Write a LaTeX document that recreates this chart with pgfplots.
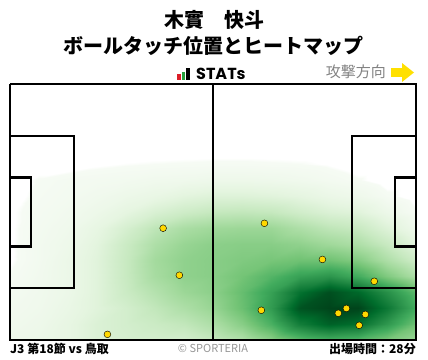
\documentclass[border=0pt]{standalone}
\usepackage{fontspec}
\usepackage{pgfplots}
\usepackage{pgfplotstable}
\pgfplotsset{compat=1.18}
\setmainfont{Noto Sans CJK JP}
\newfontfamily\popfont{Poppins}
\definecolor{dotyellow}{RGB}{255,216,0}
\definecolor{arrowyellow}{RGB}{255,224,0}
\definecolor{graytext}{RGB}{130,130,130}
\definecolor{lightgraytext}{RGB}{150,150,150}
\definecolor{logored}{RGB}{220,30,40}
\definecolor{logogreen}{RGB}{40,160,60}

% heat grid: x (m), y (m from top touchline), level
\pgfplotstableread{
x y z
0 0 0
7.5 0 0
15 0 0
22.5 0 0
30 0 0
37.5 0 0
45 0 0
52.5 0 0
60 0 0
67.5 0 0
75 0 0
82.5 0 0
90 0 0
97.5 0 0
105 0 0
0 17 0
7.5 17 0
15 17 0
22.5 17 0
30 17 0
37.5 17 0
45 17 0
52.5 17 0
60 17 0
67.5 17 0
75 17 0
82.5 17 0
90 17 0
97.5 17 0
105 17 0
0 21.25 0
7.5 21.25 0
15 21.25 0
22.5 21.25 0.01
30 21.25 0.015
37.5 21.25 0.018
45 21.25 0.02
52.5 21.25 0.022
60 21.25 0.022
67.5 21.25 0.02
75 21.25 0.018
82.5 21.25 0.012
90 21.25 0
97.5 21.25 0
105 21.25 0
0 25.5 0
7.5 25.5 0.02
15 25.5 0.03
22.5 25.5 0.035
30 25.5 0.04
37.5 25.5 0.05
45 25.5 0.055
52.5 25.5 0.065
60 25.5 0.065
67.5 25.5 0.06
75 25.5 0.05
82.5 25.5 0.035
90 25.5 0.02
97.5 25.5 0
105 25.5 0
0 29.75 0
7.5 29.75 0.025
15 29.75 0.035
22.5 29.75 0.05
30 29.75 0.07
37.5 29.75 0.09
45 29.75 0.12
52.5 29.75 0.14
60 29.75 0.14
67.5 29.75 0.13
75 29.75 0.11
82.5 29.75 0.08
90 29.75 0.06
97.5 29.75 0.025
105 29.75 0
0 34 0.01
7.5 34 0.03
15 34 0.045
22.5 34 0.07
30 34 0.11
37.5 34 0.16
45 34 0.2
52.5 34 0.23
60 34 0.24
67.5 34 0.23
75 34 0.19
82.5 34 0.15
90 34 0.13
97.5 34 0.07
105 34 0.02
0 38.25 0.01
7.5 38.25 0.035
15 38.25 0.055
22.5 38.25 0.1
30 38.25 0.17
37.5 38.25 0.25
45 38.25 0.31
52.5 38.25 0.34
60 38.25 0.35
67.5 38.25 0.35
75 38.25 0.3
82.5 38.25 0.25
90 38.25 0.22
97.5 38.25 0.14
105 38.25 0.06
0 42.5 0.01
7.5 42.5 0.04
15 42.5 0.065
22.5 42.5 0.12
30 42.5 0.21
37.5 42.5 0.3
45 42.5 0.36
52.5 42.5 0.39
60 42.5 0.4
67.5 42.5 0.4
75 42.5 0.38
82.5 42.5 0.34
90 42.5 0.3
97.5 42.5 0.22
105 42.5 0.12
0 46.75 0.01
7.5 46.75 0.04
15 46.75 0.075
22.5 46.75 0.13
30 46.75 0.22
37.5 46.75 0.33
45 46.75 0.38
52.5 46.75 0.4
60 46.75 0.42
67.5 46.75 0.44
75 46.75 0.46
82.5 46.75 0.46
90 46.75 0.41
97.5 46.75 0.3
105 46.75 0.2
0 51 0.02
7.5 51 0.045
15 51 0.075
22.5 51 0.13
30 51 0.22
37.5 51 0.32
45 51 0.38
52.5 51 0.4
60 51 0.45
67.5 51 0.52
75 51 0.6
82.5 51 0.64
90 51 0.56
97.5 51 0.42
105 51 0.3
0 55.25 0.03
7.5 55.25 0.05
15 55.25 0.075
22.5 55.25 0.13
30 55.25 0.21
37.5 55.25 0.28
45 55.25 0.35
52.5 55.25 0.39
60 55.25 0.48
67.5 55.25 0.6
75 55.25 0.77
82.5 55.25 0.87
90 55.25 0.8
97.5 55.25 0.66
105 55.25 0.5
0 59.5 0.04
7.5 59.5 0.055
15 59.5 0.085
22.5 59.5 0.13
30 59.5 0.18
37.5 59.5 0.24
45 59.5 0.3
52.5 59.5 0.36
60 59.5 0.47
67.5 59.5 0.62
75 59.5 0.86
82.5 59.5 1.0
90 59.5 0.9
97.5 59.5 0.75
105 59.5 0.56
0 63.75 0.05
7.5 63.75 0.065
15 63.75 0.1
22.5 63.75 0.15
30 63.75 0.18
37.5 63.75 0.21
45 63.75 0.24
52.5 63.75 0.3
60 63.75 0.4
67.5 63.75 0.54
75 63.75 0.73
82.5 63.75 0.82
90 63.75 0.78
97.5 63.75 0.63
105 63.75 0.46
0 68 0.06
7.5 68 0.075
15 68 0.1
22.5 68 0.15
30 68 0.17
37.5 68 0.18
45 68 0.18
52.5 68 0.23
60 68 0.29
67.5 68 0.39
75 68 0.5
82.5 68 0.55
90 68 0.52
97.5 68 0.43
105 68 0.35
}\heatgrid

\pgfplotstableread{
x y
39.6 38.3
43.8 50.8
25.2 66.5
65.8 37.0
80.8 46.6
94.2 52.4
65.0 60.1
84.9 60.9
87.0 59.6
91.9 61.2
90.3 64.1
}\touches

\begin{document}
\begin{tikzpicture}[x=1pt,y=1pt]
\path[use as bounding box] (0,0) rectangle (428,359);
\begin{axis}[
  at={(10pt,19pt)}, anchor=south west,
  width=406pt, height=256pt, scale only axis,
  xmin=0, xmax=105, ymin=0, ymax=68, y dir=reverse,
  axis lines=none, clip=false, view={0}{90},
  colormap={greensmap}{[1pt]
    rgb255(0pt)=(255,255,255)
    rgb255(3pt)=(255,255,255)
    rgb255(4pt)=(246,251,244)
    rgb255(25pt)=(229,245,224)
    rgb255(50pt)=(199,233,192)
    rgb255(75pt)=(161,217,155)
    rgb255(100pt)=(116,196,118)
    rgb255(125pt)=(65,171,93)
    rgb255(150pt)=(35,139,69)
    rgb255(175pt)=(0,109,44)
    rgb255(200pt)=(0,68,27)},
  point meta min=0, point meta max=0.9,
]
\addplot3[surf, shader=interp, mesh/cols=15, mesh/ordering=x varies] table[x=x, y=y, z=z] {\heatgrid};
% pitch markings
\addplot[black, line width=1.6pt] coordinates {(0,0) (105,0) (105,68) (0,68) (0,0)};
\addplot[black, line width=2.4pt] coordinates {(52.5,0) (52.5,68)};
\addplot[black, line width=2.4pt] coordinates {(0,13.84) (16.5,13.84) (16.5,54.16) (0,54.16)};
\addplot[black, line width=2.4pt] coordinates {(0,24.84) (5.5,24.84) (5.5,43.16) (0,43.16)};
\addplot[black, line width=2.4pt] coordinates {(105,13.84) (88.5,13.84) (88.5,54.16) (105,54.16)};
\addplot[black, line width=2.4pt] coordinates {(105,24.84) (99.5,24.84) (99.5,43.16) (105,43.16)};
% ball touches
\addplot[only marks, mark=*, mark size=3.4pt, mark options={draw=none, fill=dotyellow}] table[x=x, y=y] {\touches};
\end{axis}

% titles
\node[inner sep=0, font=\bfseries\fontsize{20}{22}\selectfont] at (214,339) {木實　快斗};
\node[inner sep=0, font=\bfseries\fontsize{20}{22}\selectfont] at (213,313) {ボールタッチ位置とヒートマップ};

% STATs logo
\fill[logored] (177,279) rectangle (180.5,285);
\fill[logogreen] (181.5,279) rectangle (185,287);
\fill[black] (186,279) rectangle (190,291);
\node[inner sep=0, anchor=base west, font=\popfont\bfseries\fontsize{16}{18}\selectfont] at (196,279) {STATs};

% attack direction
\node[inner sep=0, anchor=east, text=graytext, font=\fontsize{15}{17}\selectfont] at (386,287) {攻撃方向};
\fill[arrowyellow] (391,282) rectangle (404,290.5);
\fill[arrowyellow] (402,296) -- (414,286.5) -- (402,277) -- cycle;

% footer
\node[inner sep=0, anchor=west, font=\bfseries\fontsize{12}{14}\selectfont] at (10,10) {J3 第18節 vs 鳥取};
\node[inner sep=0, text=lightgraytext, font=\fontsize{11}{13}\selectfont] at (213,11) {© SPORTERIA};
\node[inner sep=0, anchor=east, font=\bfseries\fontsize{12}{14}\selectfont] at (416,10) {出場時間：28分};
\end{tikzpicture}
\end{document}
